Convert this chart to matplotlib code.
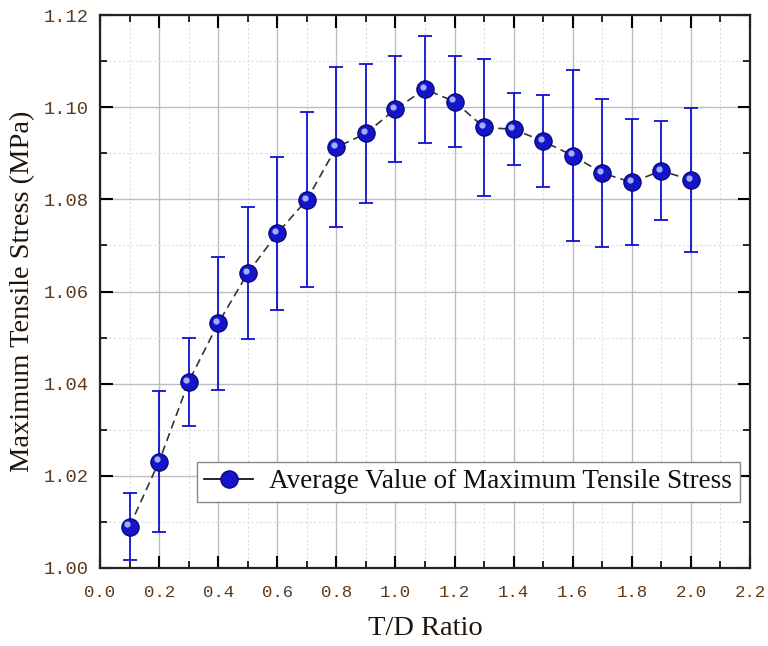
import matplotlib
matplotlib.use('Agg')
import matplotlib.pyplot as plt
import matplotlib.transforms as mtransforms
from matplotlib.ticker import MultipleLocator, FormatStrFormatter
import numpy as np

# T/D ratio and averaged max tensile stress (MPa)
td_ratio = [0.1, 0.2, 0.3, 0.4, 0.5, 0.6, 0.7, 0.8, 0.9, 1.0,
            1.1, 1.2, 1.3, 1.4, 1.5, 1.6, 1.7, 1.8, 1.9, 2.0]
avg_stress = [1.0090, 1.0231, 1.0404, 1.0531, 1.0640, 1.0726, 1.0799, 1.0913, 1.0943, 1.0996,
              1.1039, 1.1012, 1.0956, 1.0952, 1.0926, 1.0895, 1.0857, 1.0837, 1.0862, 1.0842]
stress_err = [0.0073, 0.0153, 0.0095, 0.0144, 0.0144, 0.0166, 0.0190, 0.0174, 0.0151, 0.0114,
              0.0116, 0.0099, 0.0148, 0.0078, 0.0100, 0.0185, 0.0161, 0.0137, 0.0107, 0.0157]

legend_label = 'Average Value of Maximum Tensile Stress'

tick_color = '#5e3a1c'
label_color = '#1e140a'
blue = '#1010d0'

fig = plt.figure(figsize=(7.68, 6.46), dpi=100)
ax = fig.add_axes([100 / 768, 1 - 568 / 646, 650 / 768, 553 / 646])

# error bars
ax.errorbar(td_ratio, avg_stress, yerr=stress_err, fmt='none', ecolor=blue,
            elinewidth=1.3, capsize=4.7, capthick=1.3, zorder=3)
# dashed connecting line
ax.plot(td_ratio, avg_stress, linestyle=(0, (5, 3)), color='#333333', lw=1.2, zorder=4)
# ball markers
ax.plot(td_ratio, avg_stress, linestyle='none', marker='o', ms=12.5,
        mfc='#1414c8', mec='#00006e', mew=0.8, zorder=5)
# little highlight to fake the shaded sphere
hl = mtransforms.offset_copy(ax.transData, fig=fig, x=-1.6, y=1.6, units='points')
ax.plot(td_ratio, avg_stress, linestyle='none', marker='o', ms=4.5,
        mfc='#b4c0ff', mec='none', alpha=0.9, zorder=6, transform=hl)

# legend handle made of the same style
hdl, = ax.plot([], [], color='black', lw=1.2, marker='o', ms=12.5,
               mfc='#1414c8', mec='#00006e', mew=0.8)
leg = ax.legend([hdl], [legend_label], loc='upper left', bbox_to_anchor=(0.149, 0.192),
                frameon=True, fancybox=False, framealpha=1, edgecolor='#888888',
                prop={'family': 'Liberation Serif', 'size': 19.5}, handlelength=1.8,
                handletextpad=0.6, borderpad=0.28, borderaxespad=0)
leg.get_frame().set_linewidth(1.0)
for t in leg.get_texts():
    t.set_color('#101010')

ax.set_xlim(0.0, 2.2)
ax.set_ylim(1.00, 1.12)
ax.xaxis.set_major_locator(MultipleLocator(0.2))
ax.xaxis.set_minor_locator(MultipleLocator(0.1))
ax.yaxis.set_major_locator(MultipleLocator(0.02))
ax.yaxis.set_minor_locator(MultipleLocator(0.01))
ax.xaxis.set_major_formatter(FormatStrFormatter('%.1f'))
ax.yaxis.set_major_formatter(FormatStrFormatter('%.2f'))

ax.grid(which='major', color='#bdbdbd', lw=1.0, ls='-')
ax.grid(which='minor', color='#dddddd', lw=0.8, ls=(0, (2, 2)))
ax.set_axisbelow(True)

ax.tick_params(which='major', direction='in', length=9, width=1.5, top=True, right=True,
               labelsize=13.5, labelcolor=tick_color, pad=8)
ax.tick_params(axis='x', which='major', pad=12, labelsize=12.5)
ax.tick_params(which='minor', direction='in', length=5, width=1.2, top=True, right=True)
for lab in ax.get_xticklabels() + ax.get_yticklabels():
    lab.set_family('Liberation Mono')
for sp in ax.spines.values():
    sp.set_linewidth(1.6)
    sp.set_color('#222222')

ax.set_xlabel('T/D Ratio', family='Liberation Serif', fontsize=20.5, color=label_color, labelpad=12)
ax.set_ylabel('Maximum Tensile Stress (MPa)', family='Liberation Serif', fontsize=20.5,
              color=label_color, labelpad=6)

fig.savefig('out.png', dpi=100)
